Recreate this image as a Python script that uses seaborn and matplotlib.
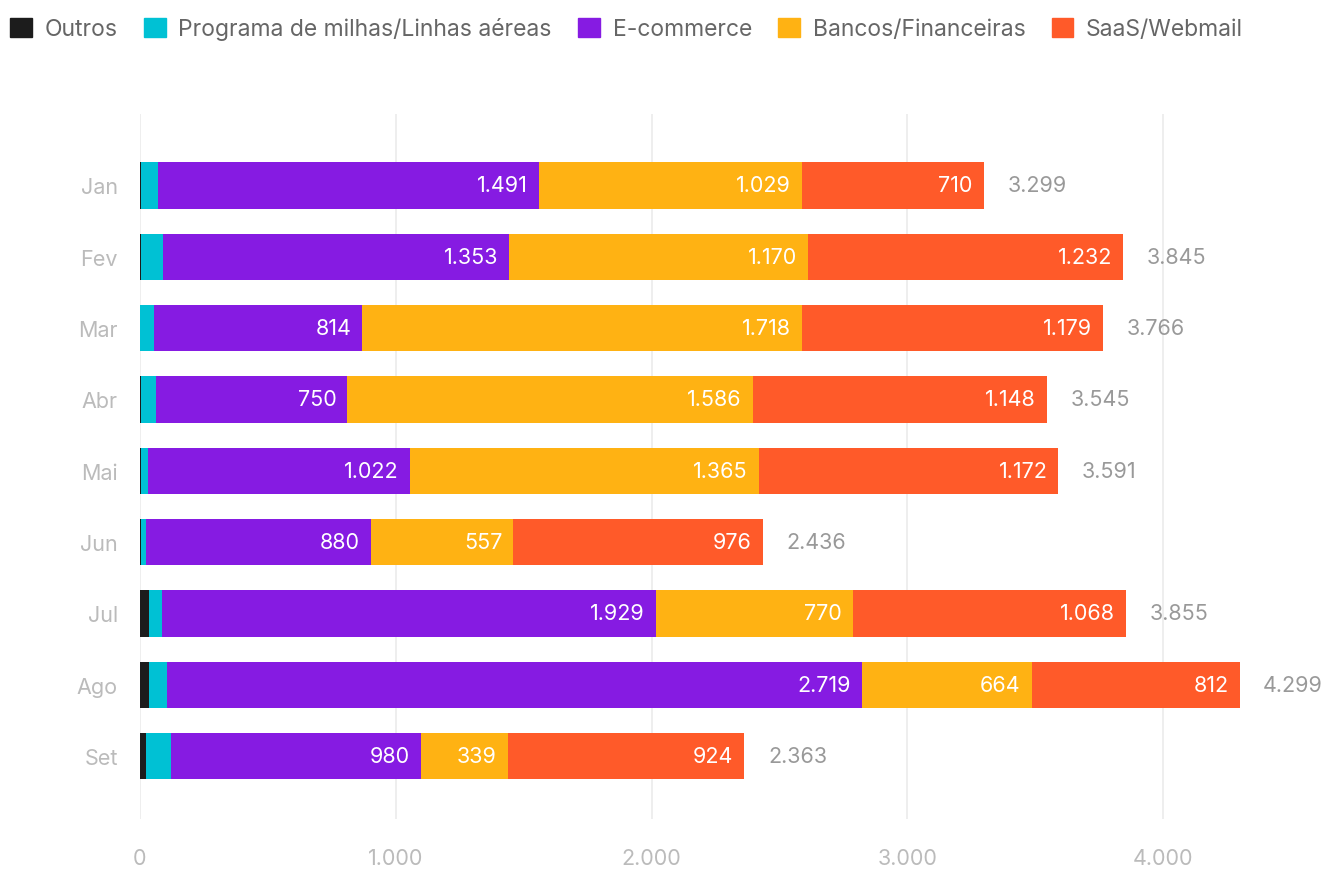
import numpy as np
import pandas as pd
import matplotlib
matplotlib.use("Agg")
import matplotlib.pyplot as plt
from matplotlib.patches import Patch
import seaborn as sns

# data
months = ["Jan", "Fev", "Mar", "Abr", "Mai", "Jun", "Jul", "Ago", "Set"]
outros = [3, 4, 0, 3, 4, 3, 35, 35, 23]
milhas = [66, 86, 55, 58, 28, 20, 53, 69, 97]
ecommerce = [1491, 1353, 814, 750, 1022, 880, 1929, 2719, 980]
bancos = [1029, 1170, 1718, 1586, 1365, 557, 770, 664, 339]
saas = [710, 1232, 1179, 1148, 1172, 976, 1068, 812, 924]

series = ["Outros", "Programa de milhas/Linhas aéreas", "E-commerce",
          "Bancos/Financeiras", "SaaS/Webmail"]
colors = ["#1c1c1c", "#00c1d4", "#861be2", "#ffb213", "#ff5a29"]

df = pd.DataFrame({"month": months, series[0]: outros, series[1]: milhas,
                   series[2]: ecommerce, series[3]: bancos, series[4]: saas})
cum = df[series].cumsum(axis=1)
totals = cum[series[-1]]

def fmt(v):
    return f"{int(v):,}".replace(",", ".")

sns.set_theme(style="white")
plt.rcParams["font.family"] = ["Inter", "DejaVu Sans"]

fig = plt.figure(figsize=(13.23, 8.7), dpi=100)
ax = fig.add_axes([0.1058, 0.0575, 0.870, 0.8103])

# stacked bars: draw cumulative sums, widest first
for name, col in reversed(list(zip(series, colors))):
    sns.barplot(x=cum[name], y=df["month"], color=col, saturation=1,
                width=0.65, orient="h", ax=ax, zorder=2, linewidth=0,
                edgecolor="none")

# segment labels (only the three big categories)
for name in series[2:]:
    for i, v in enumerate(df[name]):
        ax.annotate(fmt(v), (cum[name][i], i), xytext=(-8, 0),
                    textcoords="offset points", ha="right", va="center",
                    color="white", fontsize=15.5)

for i, t in enumerate(totals):
    ax.annotate(fmt(t), (t, i), xytext=(17, 0), textcoords="offset points",
                ha="left", va="center", color="#999999", fontsize=15.5)

ax.set_xlim(0, 4500)
ax.set_ylim(8.88, -1)
ax.set_xticks([0, 1000, 2000, 3000, 4000])
ax.set_xticklabels([fmt(v) for v in [0, 1000, 2000, 3000, 4000]])
ax.xaxis.grid(True, color="#ebebeb", linewidth=1.2, zorder=0)
ax.set_axisbelow(True)
ax.tick_params(axis="x", length=0, pad=21, labelsize=15.5, labelcolor="#bbbbbb")
ax.tick_params(axis="y", length=0, pad=16, labelsize=15.5, labelcolor="#bbbbbb")
ax.set_xlabel("")
ax.set_ylabel("")
sns.despine(ax=ax, left=True, bottom=True)

handles = [Patch(facecolor=c, edgecolor=c, label=s) for s, c in zip(series, colors)]
leg = fig.legend(handles=handles, loc="upper left", bbox_to_anchor=(-0.006, 1.0),
                 ncol=5, frameon=False, fontsize=16.5, handlelength=0.95,
                 handleheight=0.95, handletextpad=0.55, columnspacing=1.15,
                 borderaxespad=0.15, borderpad=0.65)
for t in leg.get_texts():
    t.set_color("#666666")

fig.savefig("out.png", dpi=100)
